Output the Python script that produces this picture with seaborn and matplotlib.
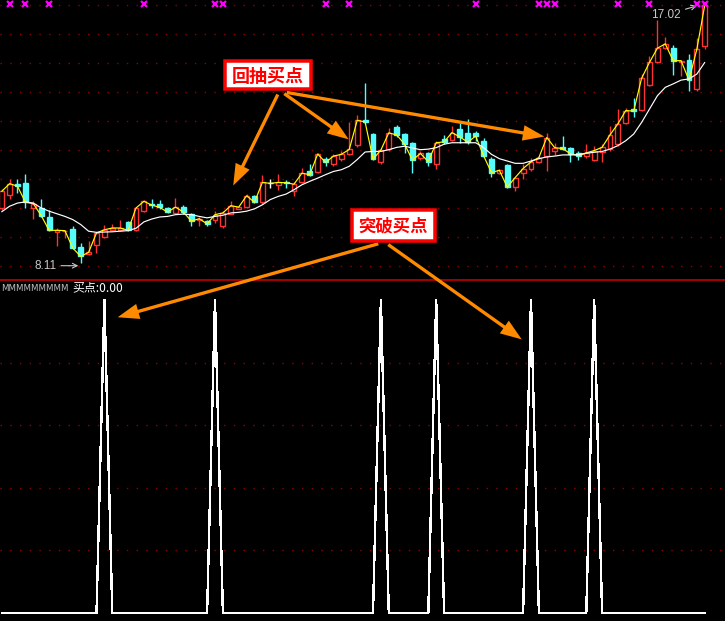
import numpy as np
import matplotlib.pyplot as plt
import matplotlib.patches as mpatches
import seaborn as sns
import pandas as pd

sns.set_theme(style="dark", rc={"axes.facecolor": "black", "figure.facecolor": "black"})
plt.rcParams['font.family'] = ['Noto Sans CJK SC', 'DejaVu Sans']

# daily bars
open_ = [10.00, 10.46, 10.84, 10.86, 10.00, 10.00, 9.69, 9.16, 9.20, 9.29,
         8.66, 8.41, 8.72, 9.00, 9.23, 9.25, 9.50, 9.23, 9.89, 10.14,
         10.15, 10.00, 9.83, 10.05, 9.79, 9.57, 9.54, 9.60, 9.37, 9.80,
         9.97, 10.03, 10.42, 10.19, 10.85, 10.80, 10.88, 10.59, 10.88, 11.29,
         11.24, 11.68, 11.50, 11.68, 11.87, 12.18, 13.02, 12.56, 11.57, 12.02,
         12.79, 12.54, 12.24, 11.72, 11.88, 11.50, 12.37, 12.34, 12.71, 12.57,
         12.60, 12.31, 11.70, 11.22, 11.47, 10.72, 11.20, 11.33, 11.59, 11.79,
         11.97, 12.11, 12.08, 11.90, 11.80, 11.67, 11.92, 12.03, 12.20, 12.93,
         13.41, 13.39, 14.24, 15.05, 15.51, 15.52, 15.05, 15.10, 14.10, 15.60]
high = [10.66, 11.00, 11.00, 11.18, 10.25, 10.31, 9.94, 9.31, 9.25, 9.39,
        8.79, 8.85, 9.18, 9.43, 9.45, 9.60, 9.55, 10.05, 10.29, 10.30,
        10.29, 10.05, 10.34, 10.10, 9.82, 9.70, 9.58, 9.89, 9.89, 10.25,
        10.06, 10.49, 10.45, 11.14, 11.00, 11.17, 10.98, 10.88, 11.38, 11.52,
        11.90, 11.76, 11.87, 11.98, 12.98, 13.20, 14.30, 12.60, 12.05, 12.76,
        12.85, 12.58, 12.28, 11.95, 11.92, 12.30, 12.52, 12.83, 12.92, 13.08,
        12.65, 12.40, 11.75, 11.35, 11.50, 11.08, 11.50, 11.74, 11.79, 12.60,
        12.23, 12.48, 12.12, 11.95, 12.20, 12.15, 12.20, 12.84, 13.41, 13.45,
        13.78, 14.62, 15.25, 16.49, 15.88, 15.62, 15.10, 15.31, 15.85, 17.02]
low = [9.94, 10.31, 10.52, 10.00, 9.62, 9.69, 9.20, 8.68, 8.95, 8.60,
       8.11, 8.38, 8.45, 8.95, 9.20, 9.20, 9.20, 9.20, 9.85, 10.00,
       9.98, 9.84, 9.80, 9.80, 9.37, 9.37, 9.37, 9.48, 9.31, 9.78,
       9.95, 10.00, 10.17, 10.15, 10.70, 10.62, 10.70, 10.40, 10.85, 11.10,
       11.20, 11.45, 11.45, 11.62, 11.83, 12.10, 12.90, 11.65, 11.52, 11.98,
       12.45, 11.90, 11.20, 11.65, 11.45, 11.33, 12.20, 12.30, 12.25, 12.20,
       12.30, 11.75, 11.08, 11.18, 10.68, 10.59, 11.00, 11.28, 11.55, 11.28,
       11.82, 12.00, 11.60, 11.65, 11.72, 11.62, 11.60, 11.98, 12.15, 12.90,
       13.15, 13.35, 14.20, 15.00, 15.48, 14.59, 14.55, 14.05, 14.05, 15.48]
close = [10.57, 10.84, 10.75, 10.20, 10.15, 9.74, 9.23, 9.23, 9.22, 8.62,
         8.33, 8.47, 9.14, 9.25, 9.31, 9.31, 9.23, 10.00, 10.23, 10.10,
         10.02, 9.86, 10.03, 9.86, 9.55, 9.63, 9.45, 9.77, 9.83, 10.08,
         10.03, 10.42, 10.20, 10.88, 10.85, 10.88, 10.87, 10.82, 11.20, 11.15,
         11.86, 11.57, 11.79, 11.85, 12.02, 13.02, 12.97, 11.68, 12.00, 12.59,
         12.52, 12.20, 11.65, 11.88, 11.60, 12.25, 12.28, 12.60, 12.45, 12.27,
         12.48, 11.80, 11.22, 11.30, 10.72, 11.05, 11.36, 11.59, 11.74, 12.43,
         12.08, 12.05, 11.87, 11.80, 11.90, 11.98, 12.09, 12.52, 12.90, 13.36,
         13.34, 14.47, 15.02, 15.51, 15.66, 15.08, 15.08, 14.41, 15.48, 17.00]
ma_line = [9.87, 10.06, 10.17, 10.21, 10.17, 10.00, 9.89, 9.80, 9.71, 9.60,
           9.43, 9.20, 9.16, 9.17, 9.18, 9.20, 9.22, 9.30, 9.52, 9.62,
           9.69, 9.71, 9.77, 9.79, 9.77, 9.71, 9.66, 9.71, 9.75, 9.83,
           9.85, 9.89, 9.97, 10.11, 10.29, 10.40, 10.48, 10.63, 10.80, 10.92,
           11.03, 11.15, 11.26, 11.32, 11.44, 11.67, 11.93, 11.95, 11.95, 12.01,
           12.09, 12.13, 12.07, 12.01, 12.03, 12.08, 12.20, 12.25, 12.25, 12.25,
           12.25, 12.08, 11.85, 11.70, 11.62, 11.54, 11.54, 11.62, 11.70, 11.76,
           11.79, 11.83, 11.83, 11.84, 11.89, 11.92, 11.95, 12.03, 12.15, 12.32,
           12.55, 12.95, 13.41, 13.87, 14.16, 14.28, 14.41, 14.45, 14.62, 15.02]
buy_bars = [13, 27, 48, 55, 67, 75]
mark_bars = [1, 3, 6, 18, 27, 28, 41, 44, 60, 68, 69, 70, 78, 82, 88, 89]
mark_level = 17.02

df = pd.DataFrame({"open": open_, "high": high, "low": low, "close": close, "ma": ma_line})
df["bar"] = np.arange(len(df))
df["buy"] = 0.0
df.loc[buy_bars, "buy"] = 1.0

W, H = 725, 621
fig = plt.figure(figsize=(W / 100, H / 100), dpi=100)
ax = fig.add_axes([0, 341 / H, 1, 280 / H])
ax2 = fig.add_axes([0, 0, 1, 341 / H])

RED = '#ff3232'
CYAN = '#54fcfc'
GRID = '#900000'

# candles
up = df.close > df.open
flat = df.close == df.open
edge = np.where(flat, 'white', np.where(up, RED, CYAN))
face = np.where(up | flat, 'black', CYAN)
ax.vlines(df.bar, df.low, df.high, colors=edge, lw=1, zorder=2)
body_lo = np.minimum(df.open, df.close)
body_h = np.maximum(np.abs(df.close - df.open), 0.02)
ax.bar(df.bar, body_h, bottom=body_lo, width=0.62, color=face, edgecolor=edge,
       linewidth=1, zorder=3)

sns.lineplot(data=df, x="bar", y="close", ax=ax, color='#ffff00', lw=0.85, zorder=4)
sns.lineplot(data=df, x="bar", y="ma", ax=ax, color='white', lw=0.85, zorder=4)
ax.plot(mark_bars, [mark_level] * len(mark_bars), 'x', color='#ff00ff', ms=4.5, mew=1.6,
        zorder=5, clip_on=False)

# high / low labels
hi_i = int(df.high.idxmax())
lo_i = int(df.low.idxmin())
lab = dict(color='#c8c8c8', fontsize=8.5, family=['Liberation Sans', 'DejaVu Sans'])
ax.annotate(f"{df.high[hi_i]:.2f}", xy=(hi_i - 1.0, df.high[hi_i] - 0.05), xytext=(-16, -9),
            textcoords='offset pixels', ha='right', va='center',
            arrowprops=dict(arrowstyle='->', color='#c8c8c8', lw=0.8, shrinkA=1, shrinkB=0), **lab)
ax.annotate(f"{df.low[lo_i]:.2f}", xy=(lo_i - 0.3, df.low[lo_i] - 0.1), xytext=(-22, 0),
            textcoords='offset pixels', ha='right', va='center',
            arrowprops=dict(arrowstyle='->', color='#c8c8c8', lw=0.8, shrinkA=1, shrinkB=0), **lab)

ax.set_xlim(-0.215, 91.56)
ax.set_ylim(7.517, 17.172)
ax.set_yticks(range(8, 18))

# indicator panel
sns.lineplot(data=df, x="bar", y="buy", ax=ax2, color='white', lw=1, antialiased=False)
ax2.set_xlim(-0.215, 91.56)
ax2.set_ylim(-0.0256, 1.0639)
ax2.set_yticks([0.2, 0.4, 0.6, 0.8])

for a in (ax, ax2):
    a.grid(axis='y', color=GRID, ls=(0, (1, 6)), lw=1)
    a.grid(axis='x', visible=False)
    a.set_xticks([])
    a.tick_params(labelleft=False, labelbottom=False, length=0)
    a.set_xlabel('')
    a.set_ylabel('')
    for s in a.spines.values():
        s.set_visible(False)
ax2.spines['top'].set_visible(True)
ax2.spines['top'].set_color('#c00000')
ax2.spines['top'].set_linewidth(1.2)

fig.text(1 / W, 1 - 288 / H, "MMMMMMMMM", color='#c0c0c0', fontsize=6.2, ha='left',
         va='center', family=['DejaVu Sans'])
fig.text(72 / W, 1 - 288 / H, f"买点:{df.buy.iloc[-1]:.2f}", color='white', fontsize=8.6,
         ha='left', va='center')


def P(x, y):
    return (x / W, 1 - y / H)


arrows = [((279, 92), (232, 188)), ((282, 92), (351, 141)), ((284, 92), (547, 137)),
          ((381, 243), (115, 318)), ((386, 243), (524, 341))]
for a0, a1 in arrows:
    fig.add_artist(mpatches.FancyArrowPatch(
        P(*a0), P(*a1), transform=fig.transFigure,
        arrowstyle="simple,head_length=1.1,head_width=0.8,tail_width=0.17",
        mutation_scale=14, color='#ff8a00', lw=0, zorder=5))


def label_box(x0, y0, x1, y1, txt, size):
    bw = 3.5
    fig.add_artist(mpatches.Rectangle(P(x0 + bw / 2, y1 - bw / 2), (x1 - x0 - bw) / W,
                                      (y1 - y0 - bw) / H, transform=fig.transFigure,
                                      fc='white', ec='#ff0000', lw=bw * 0.72, zorder=6))
    fig.text(*P((x0 + x1) / 2, (y0 + y1) / 2 + 1), txt, color='#ff0000', fontsize=size,
             fontweight='bold', ha='center', va='center', zorder=7)


label_box(223, 59, 313, 91, "回抽买点", 13)
label_box(350, 208, 437, 243, "突破买点", 12.5)

fig.savefig("out.png", dpi=100, facecolor='black')
